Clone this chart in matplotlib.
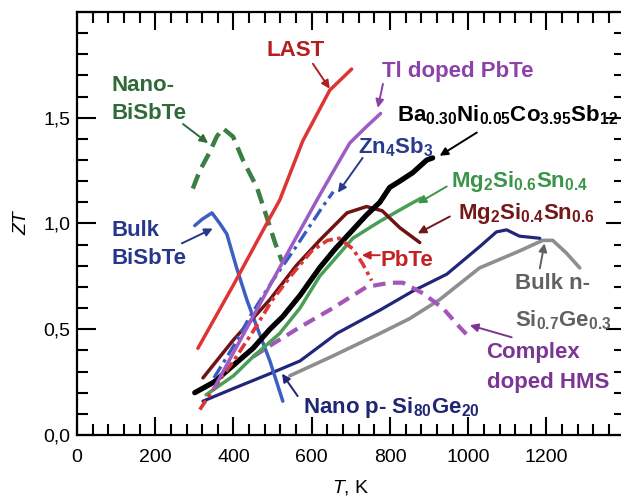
import matplotlib
matplotlib.use("Agg")
import matplotlib.pyplot as plt
from matplotlib.ticker import MultipleLocator, FixedLocator

plt.rcParams["font.family"] = ["Liberation Sans", "DejaVu Sans"]
plt.rcParams["mathtext.fontset"] = "custom"
plt.rcParams["mathtext.rm"] = "Liberation Sans"
plt.rcParams["mathtext.bf"] = "Liberation Sans:bold"
plt.rcParams["mathtext.it"] = "Liberation Sans:italic"
plt.rcParams["mathtext.default"] = "bf"
plt.rcParams["lines.solid_joinstyle"] = "round"
plt.rcParams["lines.dash_joinstyle"] = "round"

# curves: temperature (K) and ZT
last_t = [309, 400, 485, 518, 577, 646, 702]
last_zt = [0.41, 0.71, 1.00, 1.11, 1.39, 1.63, 1.73]

tlpbte_t = [350, 400, 450, 500, 550, 613, 650, 697, 741, 776]
tlpbte_zt = [0.22, 0.39, 0.56, 0.73, 0.90, 1.11, 1.23, 1.38, 1.46, 1.52]

zn4sb3_t = [350, 400, 442, 500, 560, 628, 655]
zn4sb3_zt = [0.27, 0.42, 0.56, 0.73, 0.89, 1.08, 1.15]

nano_bisbte_t = [296, 314, 340, 357, 373, 399, 424, 460, 485, 506, 524]
nano_bisbte_zt = [1.165, 1.25, 1.34, 1.41, 1.45, 1.41, 1.30, 1.17, 1.03, 0.91, 0.82]

bulk_bisbte_t = [301, 320, 345, 365, 383, 408, 434, 460, 493, 526]
bulk_bisbte_zt = [0.99, 1.02, 1.05, 1.00, 0.95, 0.79, 0.64, 0.51, 0.35, 0.16]

nano_sige_t = [322, 400, 493, 570, 664, 774, 858, 945, 1029, 1072, 1098, 1131, 1183]
nano_sige_zt = [0.16, 0.22, 0.29, 0.35, 0.48, 0.59, 0.68, 0.76, 0.89, 0.96, 0.97, 0.94, 0.93]

bulk_sige_t = [544, 650, 774, 850, 927, 1029, 1131, 1190, 1216, 1251, 1285]
bulk_sige_zt = [0.28, 0.37, 0.48, 0.55, 0.64, 0.79, 0.87, 0.92, 0.92, 0.86, 0.79]

hms_t = [450, 500, 570, 654, 740, 800, 833, 884, 935, 978, 1004]
hms_zt = [0.37, 0.43, 0.51, 0.60, 0.70, 0.72, 0.72, 0.67, 0.60, 0.51, 0.46]

pbte_t = [314, 350, 400, 450, 500, 550, 600, 640, 670, 705, 730, 753]
pbte_zt = [0.12, 0.22, 0.35, 0.49, 0.64, 0.76, 0.87, 0.92, 0.93, 0.88, 0.81, 0.73]

mg04_t = [322, 400, 493, 560, 620, 690, 740, 780, 825, 876]
mg04_zt = [0.27, 0.45, 0.64, 0.80, 0.92, 1.05, 1.08, 1.06, 0.98, 0.91]

mg06_t = [330, 400, 450, 518, 570, 620, 705, 774, 850, 880]
mg06_zt = [0.19, 0.28, 0.37, 0.48, 0.60, 0.75, 0.93, 1.01, 1.09, 1.12]

skut_t = [301, 350, 400, 450, 493, 526, 570, 620, 660, 705, 740, 774, 799, 825, 858, 894, 909]
skut_zt = [0.20, 0.25, 0.33, 0.41, 0.50, 0.56, 0.66, 0.79, 0.88, 0.97, 1.04, 1.10, 1.17, 1.20, 1.24, 1.30, 1.31]

fig = plt.figure(figsize=(6.21, 4.98), dpi=100)
ax = fig.add_axes([0.124, 0.1265, 0.882, 0.8495])

ax.plot(bulk_sige_t, bulk_sige_zt, color="#8e8e8e", lw=2.6, solid_capstyle="round")
ax.plot(nano_sige_t, nano_sige_zt, color="#22267a", lw=2.3, solid_capstyle="round")
ax.plot(hms_t, hms_zt, color="#a455b8", lw=3.0, dashes=(3, 1.8))
ax.plot(nano_bisbte_t, nano_bisbte_zt, color="#3b7f45", lw=3.2, dashes=(3.4, 1.8))
ax.plot(bulk_bisbte_t, bulk_bisbte_zt, color="#3d5fc4", lw=2.5, solid_capstyle="round")
ax.plot(mg06_t, mg06_zt, color="#47a053", lw=2.5, solid_capstyle="round")
ax.plot(mg04_t, mg04_zt, color="#6e1414", lw=2.5, solid_capstyle="round")
ax.plot(skut_t, skut_zt, color="black", lw=3.8, solid_capstyle="round")
ax.plot(pbte_t, pbte_zt, color="#e03535", lw=2.6, dashes=(3, 1.2, 1, 1.2))
ax.plot(zn4sb3_t, zn4sb3_zt, color="#3858c4", lw=2.4, dashes=(4, 1.5, 1, 1.5))
ax.plot(tlpbte_t, tlpbte_zt, color="#9b5cc4", lw=2.5, solid_capstyle="round")
ax.plot(last_t, last_zt, color="#de3434", lw=2.5, solid_capstyle="round")

ax.set_xlim(0, 1400)
ax.set_ylim(0, 2.0)
ax.xaxis.set_major_locator(FixedLocator([0, 200, 400, 600, 800, 1000, 1200, 1400]))
ax.xaxis.set_minor_locator(MultipleLocator(40))
ax.yaxis.set_major_locator(FixedLocator([0, 0.5, 1.0, 1.5, 2.0]))
ax.yaxis.set_minor_locator(MultipleLocator(0.1))
ax.set_xticklabels(["0", "200", "400", "600", "800", "1000", "1200", ""])
ax.set_yticklabels(["0,0", "0,5", "1,0", "1,5", ""])
ax.tick_params(which="both", direction="in", top=True, right=True, width=1.5, labelsize=14)
ax.tick_params(axis="x", which="major", length=13, pad=10)
ax.tick_params(axis="y", which="major", length=14, pad=5)
ax.tick_params(which="minor", length=8)
for s in ax.spines.values():
    s.set_linewidth(1.6)

ax.set_ylabel("ZT", style="italic", fontsize=14, labelpad=9)
ax.set_xlabel(r"$\mathit{T}$, K", fontsize=14, labelpad=9)


def label(text, xy, color, ha="center"):
    ax.text(xy[0], xy[1], text, color=color, fontsize=16, fontweight="bold",
            ha=ha, va="center")


def arrow(tail, head, color):
    ax.annotate("", xy=head, xytext=tail,
                arrowprops=dict(arrowstyle="-|>", color=color, lw=1.4,
                                mutation_scale=12, shrinkA=0, shrinkB=0))


label("LAST", (559, 1.816), "#b31e1e")
arrow((603, 1.755), (646, 1.637), "#b31e1e")

label("Tl doped PbTe", (973, 1.72), "#8b42aa")
arrow((782, 1.66), (769, 1.547), "#8b42aa")

label(r"Ba$_{0.30}$Ni$_{0.05}$Co$_{3.95}$Sb$_{12}$", (1100, 1.51), "black")
arrow((1022, 1.43), (927, 1.32), "black")

label(r"Zn$_4$Sb$_3$", (815, 1.36), "#2a3a8c")
arrow((730, 1.31), (667, 1.146), "#2a3a8c")

label(r"Mg$_2$Si$_{0.6}$Sn$_{0.4}$", (1131, 1.20), "#3b9548")
arrow((945, 1.175), (871, 1.095), "#3b9548")

label(r"Mg$_2$Si$_{0.4}$Sn$_{0.6}$", (1149, 1.047), "#731818")
arrow((953, 1.033), (871, 0.953), "#731818")

label("PbTe", (843, 0.825), "#c42222")
arrow((774, 0.85), (728, 0.85), "#c42222")

label("Bulk n-", (1119, 0.717), "#616161", ha="left")
label(r"Si$_{0.7}$Ge$_{0.3}$", (1119, 0.542), "#616161", ha="left")
arrow((1183, 0.788), (1195, 0.906), "#616161")

label("Complex", (1047, 0.39), "#7b3592", ha="left")
label("doped HMS", (1047, 0.25), "#7b3592", ha="left")
arrow((1111, 0.462), (1004, 0.519), "#7b3592")

label(r"Nano p- Si$_{80}$Ge$_{20}$", (577, 0.132), "#1f2672", ha="left")
arrow((564, 0.184), (524, 0.29), "#1f2672")

label("Nano-", (89, 1.65), "#2f6a38", ha="left")
label("BiSbTe", (89, 1.52), "#2f6a38", ha="left")
arrow((271, 1.47), (335, 1.38), "#2f6a38")

label("Bulk", (89, 0.967), "#27388a", ha="left")
label("BiSbTe", (89, 0.835), "#27388a", ha="left")
arrow((268, 0.906), (347, 0.976), "#27388a")

fig.savefig("out.png", dpi=100)
